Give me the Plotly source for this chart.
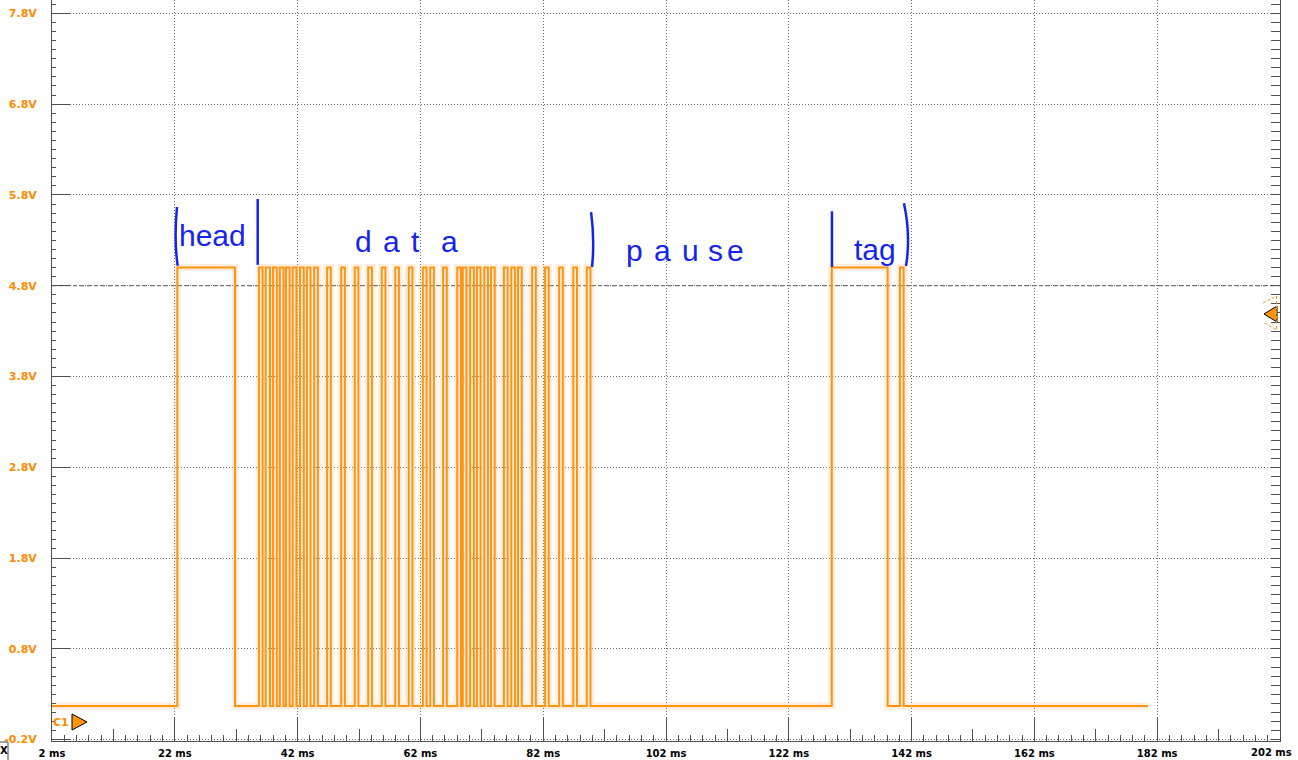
import plotly.graph_objects as go

# ---- data (times in ms, levels in V) ----
rise_ms = [22.4, 35.7, 36.8, 38.0, 39.1, 40.1, 41.2, 42.4, 43.5, 44.7, 46.8, 49.1, 51.3,
           53.5, 55.7, 57.9, 60.1, 62.4, 63.6, 65.7, 68.0, 68.9, 70.1, 71.2, 72.4, 73.5,
           75.6, 76.8, 77.9, 80.2, 82.3, 84.6, 86.9, 89.1, 129.0, 140.1]
fall_ms = [31.8, 36.3, 37.5, 38.6, 39.7, 40.7, 41.8, 43.0, 44.1, 45.3, 47.4, 49.7, 51.9,
           54.1, 56.3, 58.5, 60.7, 63.0, 64.2, 66.3, 68.6, 69.5, 70.7, 71.8, 73.0, 74.1,
           76.2, 77.4, 78.5, 80.8, 82.9, 85.2, 87.5, 89.7, 138.1, 140.7]
trace_start_ms = 2.0
trace_end_ms = 180.5
v_high = 5.0
v_low = 0.17

x_tickvals = [2, 22, 42, 62, 82, 102, 122, 142, 162, 182, 202]
x_ticktext = ["2 ms", "22 ms", "42 ms", "62 ms", "82 ms", "102 ms", "122 ms", "142 ms",
              "162 ms", "182 ms", "202 ms"]
x_midticks = [12, 32, 52, 72, 92, 112, 132, 152, 172, 192]
y_tickvals = [-0.2, 0.8, 1.8, 2.8, 3.8, 4.8, 5.8, 6.8, 7.8]
y_ticktext = ["-0.2V", "0.8V", "1.8V", "2.8V", "3.8V", "4.8V", "5.8V", "6.8V", "7.8V"]

# ---- build step waveform from edges ----
xs = [trace_start_ms]
ys = [v_low]
for r, f in zip(rise_ms, fall_ms):
    xs += [r, r, f, f]
    ys += [v_low, v_high, v_high, v_low]
xs.append(trace_end_ms)
ys.append(v_low)

ORANGE = "#FF9410"
BLUE = "#1424EE"
AX = "#505050"
XR = [1.995, 202.005]
YR = [-0.215, 7.947]

fig = go.Figure()
# faint persistence glow
fig.add_trace(go.Scatter(x=xs, y=ys, mode="lines", line=dict(color="rgba(255,170,90,0.20)", width=7),
                         hoverinfo="skip", showlegend=False))
fig.add_trace(go.Scatter(x=xs, y=ys, mode="lines", line=dict(color=ORANGE, width=2),
                         showlegend=False))
# helpers to draw extra tick axes
fig.add_trace(go.Scatter(x=[], y=[], xaxis="x2", yaxis="y", showlegend=False))
fig.add_trace(go.Scatter(x=[], y=[], xaxis="x", yaxis="y2", showlegend=False))

W, H = 1298, 760
ml, mr, mt, mb = 52, 18, 0, 19
pw, ph = W - ml - mr, H - mt - mb


def px(xp):
    return (xp - ml) / pw


def py(yp):
    return (H - mb - yp) / ph


xfont = dict(family="DejaVu Sans", size=10, color="black", weight="bold")

fig.update_layout(
    width=W, height=H,
    margin=dict(l=ml, r=mr, t=mt, b=mb, pad=0, autoexpand=False),
    paper_bgcolor="white", plot_bgcolor="white",
    showlegend=False,
    xaxis=dict(range=XR, tickmode="array", tickvals=x_tickvals[:-1], ticktext=x_ticktext[:-1],
               ticks="inside", ticklen=23, tickcolor=AX, tickwidth=1,
               showline=True, linecolor=AX, linewidth=1,
               showgrid=True, gridcolor="#707070", gridwidth=1, griddash="1px,2px",
               zeroline=False, ticklabelstandoff=3, ticklabeloverflow="allow",
               tickfont=xfont,
               minor=dict(tickmode="linear", tick0=2, dtick=2, ticks="inside", ticklen=6,
                          tickcolor=AX, showgrid=False)),
    xaxis2=dict(overlaying="x", matches="x", anchor="y", side="bottom", range=XR,
                tickmode="array", tickvals=x_midticks, ticks="inside", ticklen=12,
                tickcolor=AX, showticklabels=False, showgrid=False, showline=False,
                zeroline=False),
    yaxis=dict(range=YR, tickmode="array", tickvals=y_tickvals, ticktext=y_ticktext,
               ticks="inside", ticklen=18, tickcolor=AX, tickwidth=1,
               showline=True, linecolor=AX, linewidth=1,
               showgrid=True, gridcolor="#707070", gridwidth=1, griddash="1px,2px",
               zeroline=False, ticklabelstandoff=12, ticklabeloverflow="allow",
               tickfont=dict(family="DejaVu Sans", size=11, color="#FF8A00", weight="bold"),
               minor=dict(tickmode="linear", tick0=-0.2, dtick=0.1, ticks="inside", ticklen=4,
                          tickcolor=AX, showgrid=False)),
    yaxis2=dict(overlaying="y", matches="y", anchor="x", side="right", range=YR,
                tickmode="linear", tick0=-0.2, dtick=0.1, ticks="inside", ticklen=9,
                tickcolor=AX, showticklabels=False, showgrid=False,
                showline=True, linecolor=AX, linewidth=1, zeroline=False),
)

shapes = []
# dashed 4.8 V reference line
shapes.append(dict(type="line", xref="paper", yref="y", x0=0, x1=1, y0=4.8, y1=4.8,
                   line=dict(color="#505050", width=1, dash="4px,3px"), layer="below"))
# blue hand-drawn brackets (data coordinates)
bl = dict(color=BLUE, width=2.5)
shapes.append(dict(type="path", xref="x", yref="y",
                   path="M 22.35,5.667 Q 21.85,5.30 22.47,5.02", line=bl))
shapes.append(dict(type="line", xref="x", yref="y", x0=35.5, x1=35.5, y0=5.755, y1=5.03, line=bl))
shapes.append(dict(type="path", xref="x", yref="y",
                   path="M 89.8,5.61 Q 90.4,5.30 89.95,5.006", line=bl))
shapes.append(dict(type="line", xref="x", yref="y", x0=129.03, x1=129.03, y0=5.62, y1=5.006, line=bl))
shapes.append(dict(type="path", xref="x", yref="y",
                   path="M 140.76,5.709 Q 141.9,5.35 141.09,5.017", line=bl))

# C1 ground marker
shapes.append(dict(type="path", xref="paper", yref="paper",
                   path=f"M {px(72)},{py(714)} L {px(72)},{py(730)} L {px(87)},{py(722)} Z",
                   fillcolor="#FF9410", line=dict(color="black", width=1)))
# trigger marker on the right
shapes.append(dict(type="path", xref="paper", yref="paper",
                   path=f"M {px(1277)},{py(306)} L {px(1277)},{py(322)} L {px(1264)},{py(314)} Z",
                   fillcolor="#FF9410", line=dict(color="black", width=1)))
shapes.append(dict(type="path", xref="paper", yref="paper",
                   path=f"M {px(1263)},{py(303)} L {px(1276.5)},{py(296)} L {px(1276.5)},{py(330)} L {px(1263)},{py(322)}",
                   line=dict(color="#FF9410", width=1, dash="3px,2px")))
# X box bottom-left
shapes.append(dict(type="rect", xref="paper", yref="paper",
                   x0=px(-5), x1=px(8), y0=py(765), y1=py(742),
                   line=dict(color="#404040", width=1), fillcolor="white"))
fig.update_layout(shapes=shapes)

hand = dict(family="Liberation Sans", size=30, color=BLUE)
ann = []
ann.append(dict(x=28.2, y=5.15, xref="x", yref="y", text="head", showarrow=False,
                xanchor="center", yanchor="bottom", font=hand))
for ch, xm in zip("data", [52.65, 57.37, 61.28, 66.66]):
    ann.append(dict(x=xm, y=5.08, xref="x", yref="y", text=ch, showarrow=False,
                    xanchor="center", yanchor="bottom", font=hand))
for ch, xm in zip("pause", [96.95, 101.5, 106.07, 110.14, 113.4]):
    ann.append(dict(x=xm, y=4.98, xref="x", yref="y", text=ch, showarrow=False,
                    xanchor="center", yanchor="bottom", font=hand))
ann.append(dict(x=136.0, y=5.0, xref="x", yref="y", text="tag", showarrow=False,
                xanchor="center", yanchor="bottom", font=hand))
# last x tick label, kept inside the page
ann.append(dict(x=px(1294), y=py(752), xref="paper", yref="paper", text=x_ticktext[-1],
                showarrow=False, xanchor="right", yanchor="middle", font=xfont))
ann.append(dict(x=px(61), y=py(722), xref="paper", yref="paper", text="C1", showarrow=False,
                xanchor="center", yanchor="middle",
                font=dict(family="DejaVu Sans", size=11, color="#FF8A00", weight="bold")))
ann.append(dict(x=px(3.5), y=py(751), xref="paper", yref="paper", text="X", showarrow=False,
                xanchor="center", yanchor="middle",
                font=dict(family="DejaVu Sans", size=10, color="black", weight="bold")))
fig.update_layout(annotations=ann)

fig.write_html("out.html", config={"displayModeBar": False},
               post_script="document.body.style.margin='0';document.body.style.overflow='hidden';")
